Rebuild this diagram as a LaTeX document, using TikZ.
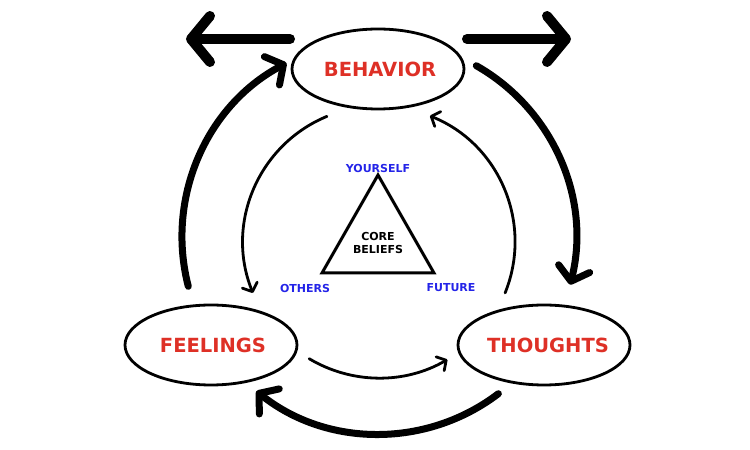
\documentclass[tikz,border=0pt]{standalone}
\usepackage{fontspec}
\setmainfont{DejaVu Sans}
\usetikzlibrary{shapes.geometric,arrows.meta,calc}
\definecolor{cbtred}{RGB}{222,48,38}
\definecolor{cbtblue}{RGB}{36,36,232}
\begin{document}
\begin{tikzpicture}[x=1pt,y=1pt,
  state/.style={ellipse,draw,line width=2.8pt,minimum width=172pt,minimum height=80pt,inner sep=0pt},
  statetext/.style={font=\fontsize{19.5}{22}\selectfont\bfseries,text=cbtred,inner sep=0pt},
  corner/.style={font=\fontsize{11}{13}\selectfont\bfseries,text=cbtblue},
  bigarrow/.style={line width=10pt,line cap=round,line join=round,
    -{Straight Barb[length=19pt,width=46pt,round]}},
  thickarc/.style={line width=7pt,line cap=round,
    -{Straight Barb[length=13pt,width=32pt,round]}},
  thinarc/.style={line width=2.8pt,line cap=round,
    -{Straight Barb[length=7pt,width=16pt,round]}}]
\useasboundingbox (0,0) rectangle (750,450);
% ellipses
\node[state] (beh) at (378,381) {};
\node[state] (fee) at (211,105) {};
\node[state] (tho) at (544,105) {};
\node[statetext] (behT) at ([xshift=2pt]beh.center) {BEHAVIOR};
\node[statetext] (feeT) at ([xshift=2pt]fee.center) {FEELINGS};
\node[statetext] (thoT) at ([xshift=4pt]tho.center) {THOUGHTS};
% triangle
\coordinate (ty) at (378,275);
\coordinate (to) at (322,177);
\coordinate (tf) at (434,177);
\draw[line width=3pt,line join=miter] (ty) -- (to) -- (tf) -- cycle;
\node[font=\fontsize{11}{13}\selectfont\bfseries,align=center] (core) at (378,207) {CORE\\BELIEFS};
\node[corner] (ly) at (378,282) {YOURSELF};
\node[corner] (lo) at (305,162) {OTHERS};
\node[corner] (lf) at (451,162) {FUTURE};
% outward arrows
\coordinate (la0) at (290,411);
\coordinate (la1) at (186,411);
\coordinate (ra0) at (467,411);
\coordinate (ra1) at (571,411);
\draw[bigarrow] (la0) -- (la1);
\draw[bigarrow] (ra0) -- (ra1);
% thick outer cycle
\coordinate (C1) at (379,213);
\coordinate (ka0) at ($(C1)+(194.5:197)$);
\coordinate (kb0) at ($(C1)+(60.4:197)$);
\coordinate (kc0) at ($(C1)+(-52.7:197)$);
\draw[thickarc] (ka0) arc[start angle=194.5,end angle=118,radius=197pt];
\draw[thickarc] (kb0) arc[start angle=60.4,end angle=-14,radius=197pt];
\draw[thickarc] (kc0) arc[start angle=-52.7,end angle=-128.5,radius=197pt];
% thin inner cycle
\coordinate (C2) at (379,208);
\coordinate (na0) at ($(C2)+(112.5:136)$);
\coordinate (nb0) at ($(C2)+(-22:136)$);
\coordinate (nc0) at ($(C2)+(-120.9:136)$);
\draw[thinarc] (na0) arc[start angle=112.5,end angle=202,radius=136pt];
\draw[thinarc] (nb0) arc[start angle=-22,end angle=68,radius=136pt];
\draw[thinarc] (nc0) arc[start angle=-120.9,end angle=-59.8,radius=136pt];
\end{tikzpicture}
\end{document}
